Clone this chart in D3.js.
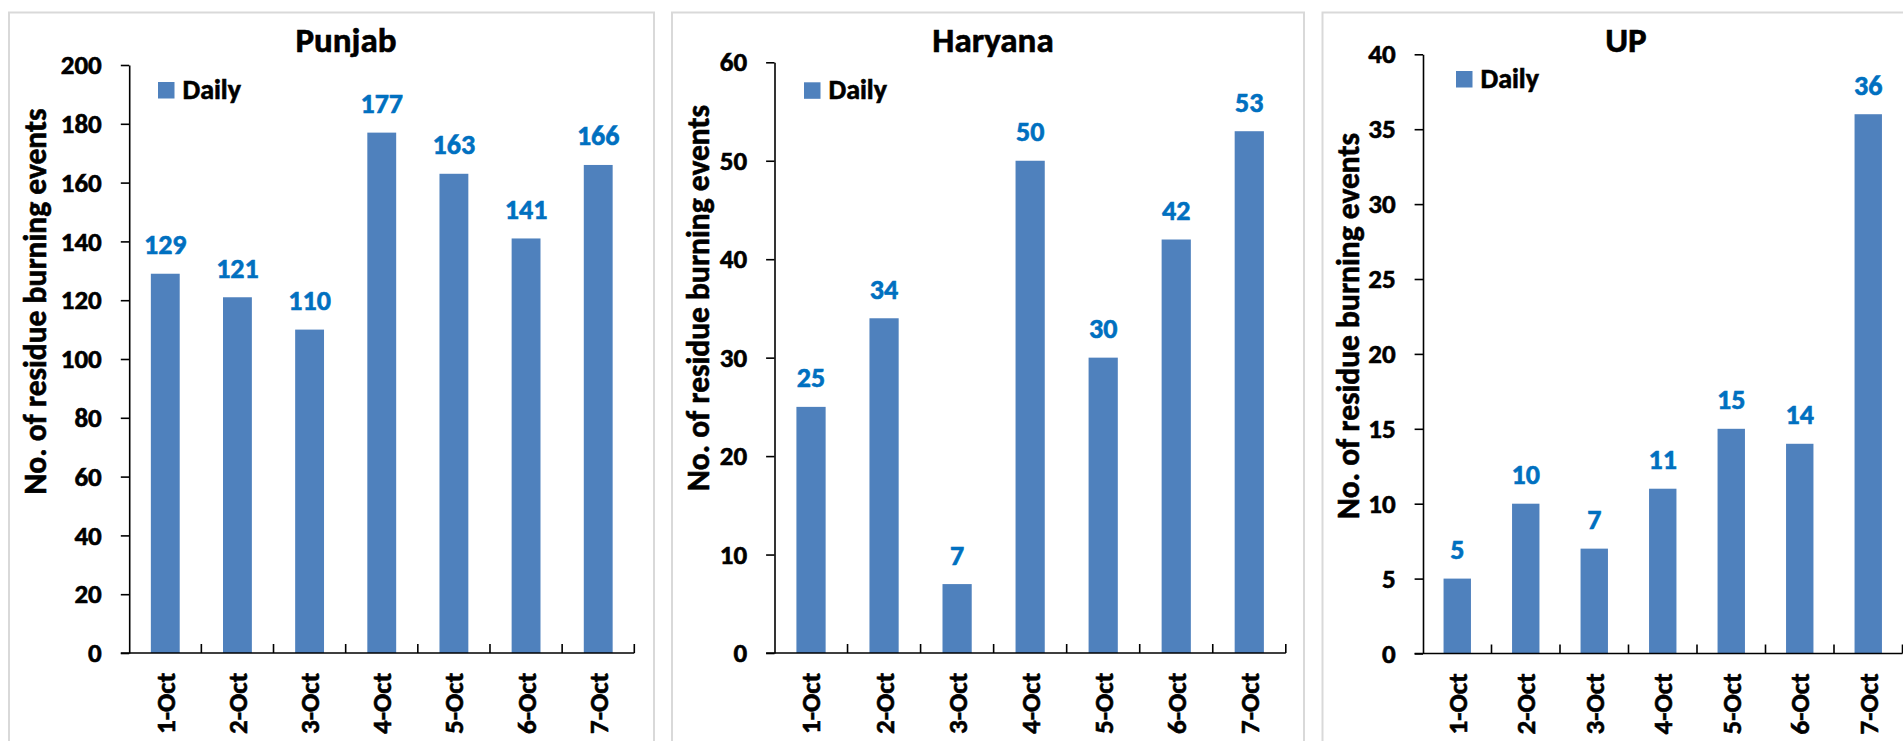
<!DOCTYPE html>
<html>
<head>
<meta charset="utf-8">
<script src="https://cdn.jsdelivr.net/npm/d3@7"></script>
<style>
  body { margin: 0; background: #fff; }
  svg { display: block; }
  text { font-family: Carlito, Lato, "Noto Sans", sans-serif; font-weight: 700; stroke-width: 0.6px; }
</style>
</head>
<body>
<svg width="1903" height="741"></svg>
<script>
const categories = ["1-Oct", "2-Oct", "3-Oct", "4-Oct", "5-Oct", "6-Oct", "7-Oct"];
const punjabDaily = [129, 121, 110, 177, 163, 141, 166];
const haryanaDaily = [25, 34, 7, 50, 30, 42, 53];
const upDaily = [5, 10, 7, 11, 15, 14, 36];
const punjabTicks = [0, 20, 40, 60, 80, 100, 120, 140, 160, 180, 200];
const haryanaTicks = [0, 10, 20, 30, 40, 50, 60];
const upTicks = [0, 5, 10, 15, 20, 25, 30, 35, 40];
const seriesName = "Daily";
const yLabel = "No. of residue burning events";

const svg = d3.select("svg");

// one entry per panel: where it sits on the page
const panels = [
    {title: "Punjab", values: punjabDaily, ticks: punjabTicks,
     box: [9, 12.5, 654], left: 129.2, right: 634.3, top: 65, bottom: 653,
     titleX: 346, legend: [158, 82], yLab: [34.7, 301.5]},
    {title: "Haryana", values: haryanaDaily, ticks: haryanaTicks,
     box: [672, 12.5, 1304], left: 774.5, right: 1285.8, top: 62.3, bottom: 653,
     titleX: 993, legend: [804, 82.3], yLab: [698, 298]},
    {title: "UP", values: upDaily, ticks: upTicks,
     box: [1322.5, 12.5, 1940], left: 1423, right: 1902.5, top: 54.3, bottom: 653.5,
     titleX: 1626, legend: [1456, 71], yLab: [1348, 326]}
];

function drawPanel(p) {
    const g = svg.append("g").attr("class", "panel");

    g.append("rect")
        .attr("x", p.box[0]).attr("y", p.box[1])
        .attr("width", p.box[2] - p.box[0]).attr("height", 800)
        .attr("fill", "#fff")
        .attr("stroke", "#d9d9d9")
        .attr("stroke-width", 2);

    const x = d3.scaleBand()
        .domain(categories)
        .range([p.left, p.right])
        .paddingInner(0.6)
        .paddingOuter(0.3);

    const y = d3.scaleLinear()
        .domain([0, d3.max(p.ticks)])
        .range([p.bottom, p.top]);

    // bars
    g.append("g").selectAll("rect")
        .data(p.values)
        .enter().append("rect")
        .attr("x", (d, i) => x(categories[i]))
        .attr("y", d => y(d))
        .attr("width", x.bandwidth())
        .attr("height", d => y(0) - y(d))
        .attr("fill", "#4f81bd");

    // data labels
    g.append("g").selectAll("text")
        .data(p.values)
        .enter().append("text")
        .attr("x", (d, i) => x(categories[i]) + x.bandwidth() / 2)
        .attr("y", d => y(d) - 19.5)
        .attr("text-anchor", "middle")
        .attr("font-size", 28)
        .attr("fill", "#0070c0")
        .attr("stroke", "#0070c0")
        .text(d => d);

    // y axis
    const yAxis = g.append("g")
        .attr("transform", `translate(${p.left},0)`)
        .call(d3.axisLeft(y).tickValues(p.ticks).tickSize(8.4).tickPadding(19).tickSizeOuter(0));
    yAxis.select(".domain").attr("stroke", "#000").attr("stroke-width", 1.6);
    yAxis.selectAll(".tick line").attr("stroke", "#000").attr("stroke-width", 1.6);
    yAxis.selectAll(".tick text")
        .attr("font-size", 27)
        .attr("fill", "#000")
        .attr("stroke", "#000")
        .attr("font-family", null);

    // x axis: line, boundary ticks pointing up, rotated labels
    const step = x.step();
    const xa = g.append("g");
    const path = d3.path();
    path.moveTo(p.left - 8.4, p.bottom);
    path.lineTo(p.right, p.bottom);
    categories.forEach((c, i) => {
        const bx = p.left + (i + 1) * step;
        path.moveTo(bx, p.bottom);
        path.lineTo(bx, p.bottom - 9);
    });
    xa.append("path")
        .attr("d", path.toString())
        .attr("fill", "none")
        .attr("stroke", "#000")
        .attr("stroke-width", 1.6);

    xa.selectAll("text")
        .data(categories)
        .enter().append("text")
        .attr("transform", c => `translate(${x(c) + x.bandwidth() / 2},${p.bottom + 20}) rotate(-90)`)
        .attr("dy", "0.35em")
        .attr("text-anchor", "end")
        .attr("font-size", 27)
        .attr("stroke", "#000")
        .text(c => c);

    // title
    g.append("text")
        .attr("x", p.titleX).attr("y", 51.5)
        .attr("text-anchor", "middle")
        .attr("font-size", 35)
        .attr("stroke", "#000")
        .text(p.title);

    // legend
    g.append("rect")
        .attr("x", p.legend[0]).attr("y", p.legend[1])
        .attr("width", 16.5).attr("height", 16.5)
        .attr("fill", "#4f81bd");
    g.append("text")
        .attr("x", p.legend[0] + 24.5).attr("y", p.legend[1] + 16.5)
        .attr("font-size", 28)
        .attr("stroke", "#000")
        .text(seriesName);

    // y label
    g.append("text")
        .attr("transform", `translate(${p.yLab[0]},${p.yLab[1]}) rotate(-90)`)
        .attr("dy", "0.35em")
        .attr("text-anchor", "middle")
        .attr("font-size", 31.5)
        .attr("stroke", "#000")
        .text(yLabel);
}

panels.forEach(drawPanel);
</script>
</body>
</html>
